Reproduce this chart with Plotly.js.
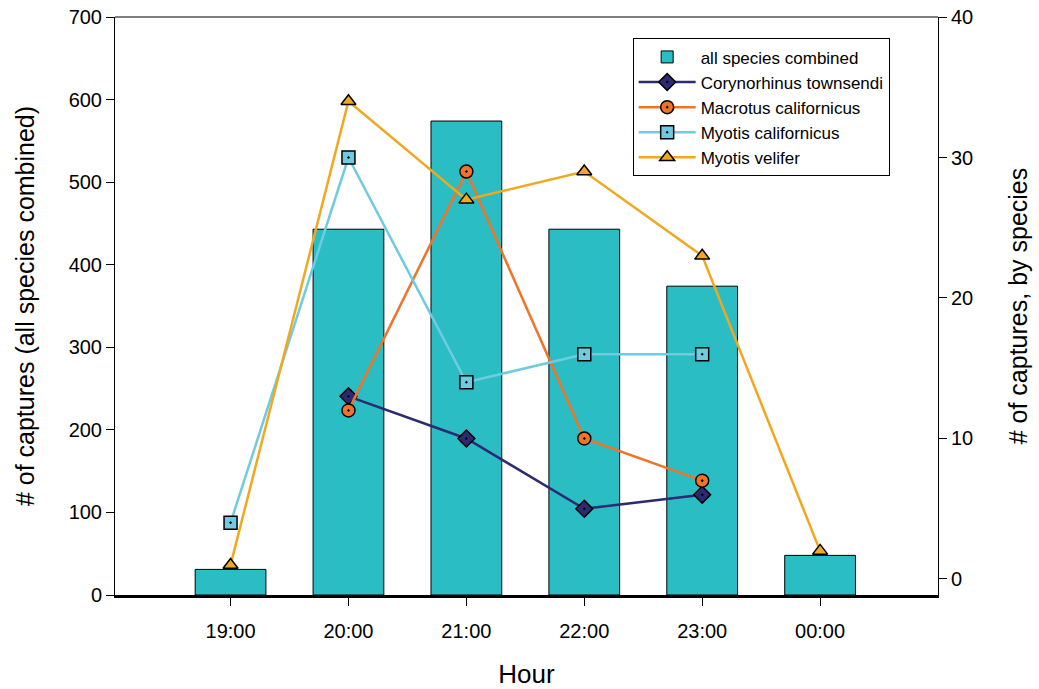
<!DOCTYPE html>
<html>
<head>
<meta charset="utf-8">
<script src="https://cdn.plot.ly/plotly-3.0.1.min.js"></script>
<style>body{margin:0;background:#fff}#chart{width:1039px;height:689px}</style>
</head>
<body>
<div id="chart"></div>
<script>
const hours = ["19:00", "20:00", "21:00", "22:00", "23:00", "00:00"];
const allSpecies = [31, 443, 574, 443, 374, 48];
const corynorhinus = [null, 13, 10, 5, 6, null];
const macrotus = [null, 12, 29, 10, 7, null];
const myotisCal = [4, 30, 14, 16, 16, null];
const myotisVel = [1, 34, 27, 29, 23, 2];

const font = "Liberation Sans, Arial, sans-serif";
function lineTrace(name, y, color, symbol) {
  return {
    type: "scatter", mode: "lines+markers", name: name, x: hours, y: y,
    yaxis: "y2", connectgaps: false,
    line: {color: color, width: 2.5},
    marker: {symbol: symbol, size: 13, color: color, line: {color: "#000", width: 1.5}}
  };
}
const data = [
  {type: "bar", name: "all species combined", x: hours, y: allSpecies,
   marker: {color: "#2bbdc4", line: {color: "#000", width: 1}}, width: 0.6},
  lineTrace("Corynorhinus townsendi", corynorhinus, "#2b2a72", "diamond-dot"),
  lineTrace("Macrotus californicus", macrotus, "#f07428", "circle-dot"),
  lineTrace("Myotis californicus", myotisCal, "#6fcbe0", "square-dot"),
  lineTrace("Myotis velifer", myotisVel, "#f0a820", "triangle-up")
];
const layout = {
  width: 1039, height: 689,
  margin: {l: 115, r: 101, t: 17, b: 94},
  paper_bgcolor: "#fff", plot_bgcolor: "#fff",
  font: {family: font, color: "#000", size: 20},
  showlegend: true,
  legend: {x: 0.629, y: 0.963, xanchor: "left", yanchor: "top",
           bordercolor: "#000", borderwidth: 1, bgcolor: "#fff",
           font: {family: font, size: 17}, tracegroupgap: 0, itemwidth: 57},
  xaxis: {type: "category", range: [-0.98, 6.0], showline: true, linecolor: "#000", linewidth: 2.5,
          ticks: "outside", ticklen: 8, tickcolor: "#000", showgrid: false, zeroline: false,
          ticklabelstandoff: 8,
          tickfont: {size: 20}, title: {text: "Hour", font: {size: 26}, standoff: 30}},
  yaxis: {range: [0, 700], dtick: 100, showline: true, linecolor: "#000", linewidth: 1,
          ticks: "outside", ticklen: 8, tickcolor: "#000", showgrid: false, zeroline: false,
          tickfont: {size: 20}, title: {text: "# of captures (all species combined)", font: {size: 25}, standoff: 26}},
  yaxis2: {overlaying: "y", side: "right", range: [-1.14, 40], dtick: 10,
           showline: true, linecolor: "#000", linewidth: 1,
           ticks: "outside", ticklen: 8, tickcolor: "#000", showgrid: false, zeroline: false,
           tickfont: {size: 20}, title: {text: "# of captures, by species", font: {size: 25}, standoff: 37}},
  shapes: [{type: "line", xref: "paper", yref: "paper", x0: 0, x1: 1, y0: 1, y1: 1,
            line: {color: "#000", width: 1}}]
};
Plotly.newPlot("chart", data, layout, {displayModeBar: false});
</script>
</body>
</html>
